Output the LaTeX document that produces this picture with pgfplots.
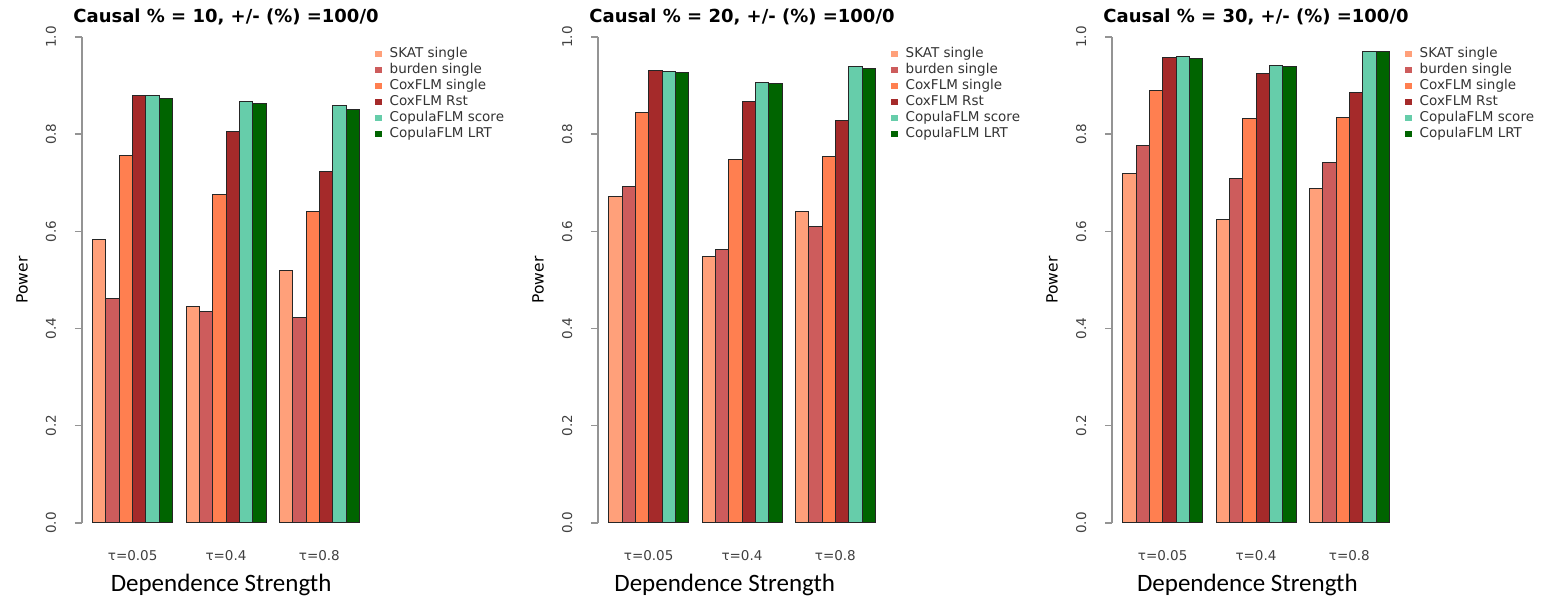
\documentclass[border=0pt]{standalone}
\usepackage{fontspec}
\setmainfont{DejaVu Sans}
\newfontfamily\calibri{Carlito}
\usepackage{pgfplots}
\usepackage{pgfplotstable}
\pgfplotsset{compat=1.18}

\definecolor{cSKAT}{HTML}{FFA07A}
\definecolor{cBurden}{HTML}{CD5C5C}
\definecolor{cCoxS}{HTML}{FF7F50}
\definecolor{cCoxR}{HTML}{A52A2A}
\definecolor{cCopS}{HTML}{66CDAA}
\definecolor{cCopL}{HTML}{006400}

% rows: tau = 0.05, 0.4, 0.8
\pgfplotstableread{
g skat burden coxs coxr cops copl
0 0.584 0.461 0.757 0.879 0.880 0.873
1 0.446 0.436 0.675 0.805 0.868 0.864
2 0.519 0.422 0.640 0.723 0.860 0.851
}\tabA
\pgfplotstableread{
g skat burden coxs coxr cops copl
0 0.671 0.692 0.844 0.931 0.930 0.927
1 0.548 0.562 0.748 0.868 0.907 0.905
2 0.641 0.610 0.755 0.829 0.939 0.935
}\tabB
\pgfplotstableread{
g skat burden coxs coxr cops copl
0 0.720 0.776 0.890 0.957 0.960 0.956
1 0.625 0.708 0.833 0.924 0.941 0.940
2 0.688 0.741 0.835 0.886 0.971 0.970
}\tabC

\pgfplotsset{
  mybar/.style={ybar, bar width=1, bar shift=0pt, draw=black!85, line width=1pt, fill=#1,
    legend image code/.code={\fill[#1, draw=none] (0pt,-3pt) rectangle (6.5pt,3.5pt); \path[draw=none, fill=none] (0pt,0pt) -- (13pt,0pt);}},
  panel/.style={
    scale only axis, width=288pt, height=486pt,
    xmin=0.2, xmax=21.8, ymin=0, ymax=1,
    clip=false,
    axis lines=left,
    x axis line style={draw=none},
    y axis line style={-, draw=black!42, line width=1.4pt},
    xtick={4,11,18},
    xticklabels={τ=0.05,τ=0.4,τ=0.8},
    xtick style={draw=none},
    xticklabel style={anchor=base, yshift=-31pt, font=\fontsize{13.5}{16}\selectfont, text=black!75},
    major tick length=7pt,
    tick align=outside,
    ytick={0,0.2,0.4,0.6,0.8,1},
    yticklabels={0.0,0.2,0.4,0.6,0.8,1.0},
    ytick style={draw=black!42, line width=1.4pt},
    yticklabel style={xshift=-19pt, rotate=90, anchor=base, font=\fontsize{13.5}{16}\selectfont, text=black!75},
    ylabel={Power},
    ylabel style={at={(axis description cs:-0.208,0.5)}, anchor=center, font=\fontsize{15.5}{18}\selectfont},
    xlabel={Dependence Strength},
    xlabel style={anchor=base, font=\calibri\fontsize{25}{30}\selectfont},
    title style={at={(axis description cs:0.5,1.018)}, anchor=base, font=\bfseries\fontsize{18}{20}\selectfont},
    legend style={at={(axis description cs:1.0174,0.981)}, anchor=north west, draw=none, fill=none,
      font=\fontsize{13.5}{16}\selectfont, text=black!80, inner sep=0pt, row sep=0pt,
      nodes={inner sep=1.5pt, text height=10pt, text depth=3pt}},
    legend cell align=left,
  }
}

\newcommand{\allbars}[1]{%
  \addplot[mybar=cSKAT]   table[x expr=7*\thisrow{g}+1.5, y=skat]   {#1};
  \addplot[mybar=cBurden] table[x expr=7*\thisrow{g}+2.5, y=burden] {#1};
  \addplot[mybar=cCoxS]   table[x expr=7*\thisrow{g}+3.5, y=coxs]   {#1};
  \addplot[mybar=cCoxR]   table[x expr=7*\thisrow{g}+4.5, y=coxr]   {#1};
  \addplot[mybar=cCopS]   table[x expr=7*\thisrow{g}+5.5, y=cops]   {#1};
  \addplot[mybar=cCopL]   table[x expr=7*\thisrow{g}+6.5, y=copl]   {#1};
  \legend{SKAT single, burden single, CoxFLM single, CoxFLM Rst, CopulaFLM score, CopulaFLM LRT}
}

\begin{document}
\begin{tikzpicture}[x=1pt,y=1pt]
\useasboundingbox (0,0) rectangle (1545,604);
\begin{axis}[panel, at={(82pt,81pt)}, anchor=south west,
  title={Causal \% = 10, +/- (\%) =100/0},
  xlabel style={at={(axis description cs:0.483,-0.1414)}}]
\allbars{\tabA}
\end{axis}
\begin{axis}[panel, at={(598pt,81pt)}, anchor=south west,
  title={Causal \% = 20, +/- (\%) =100/0},
  xlabel style={at={(axis description cs:0.44,-0.1414)}}]
\allbars{\tabB}
\end{axis}
\begin{axis}[panel, at={(1112pt,81pt)}, anchor=south west,
  title={Causal \% = 30, +/- (\%) =100/0},
  xlabel style={at={(axis description cs:0.47,-0.1414)}}]
\allbars{\tabC}
\end{axis}
\end{tikzpicture}
\end{document}
